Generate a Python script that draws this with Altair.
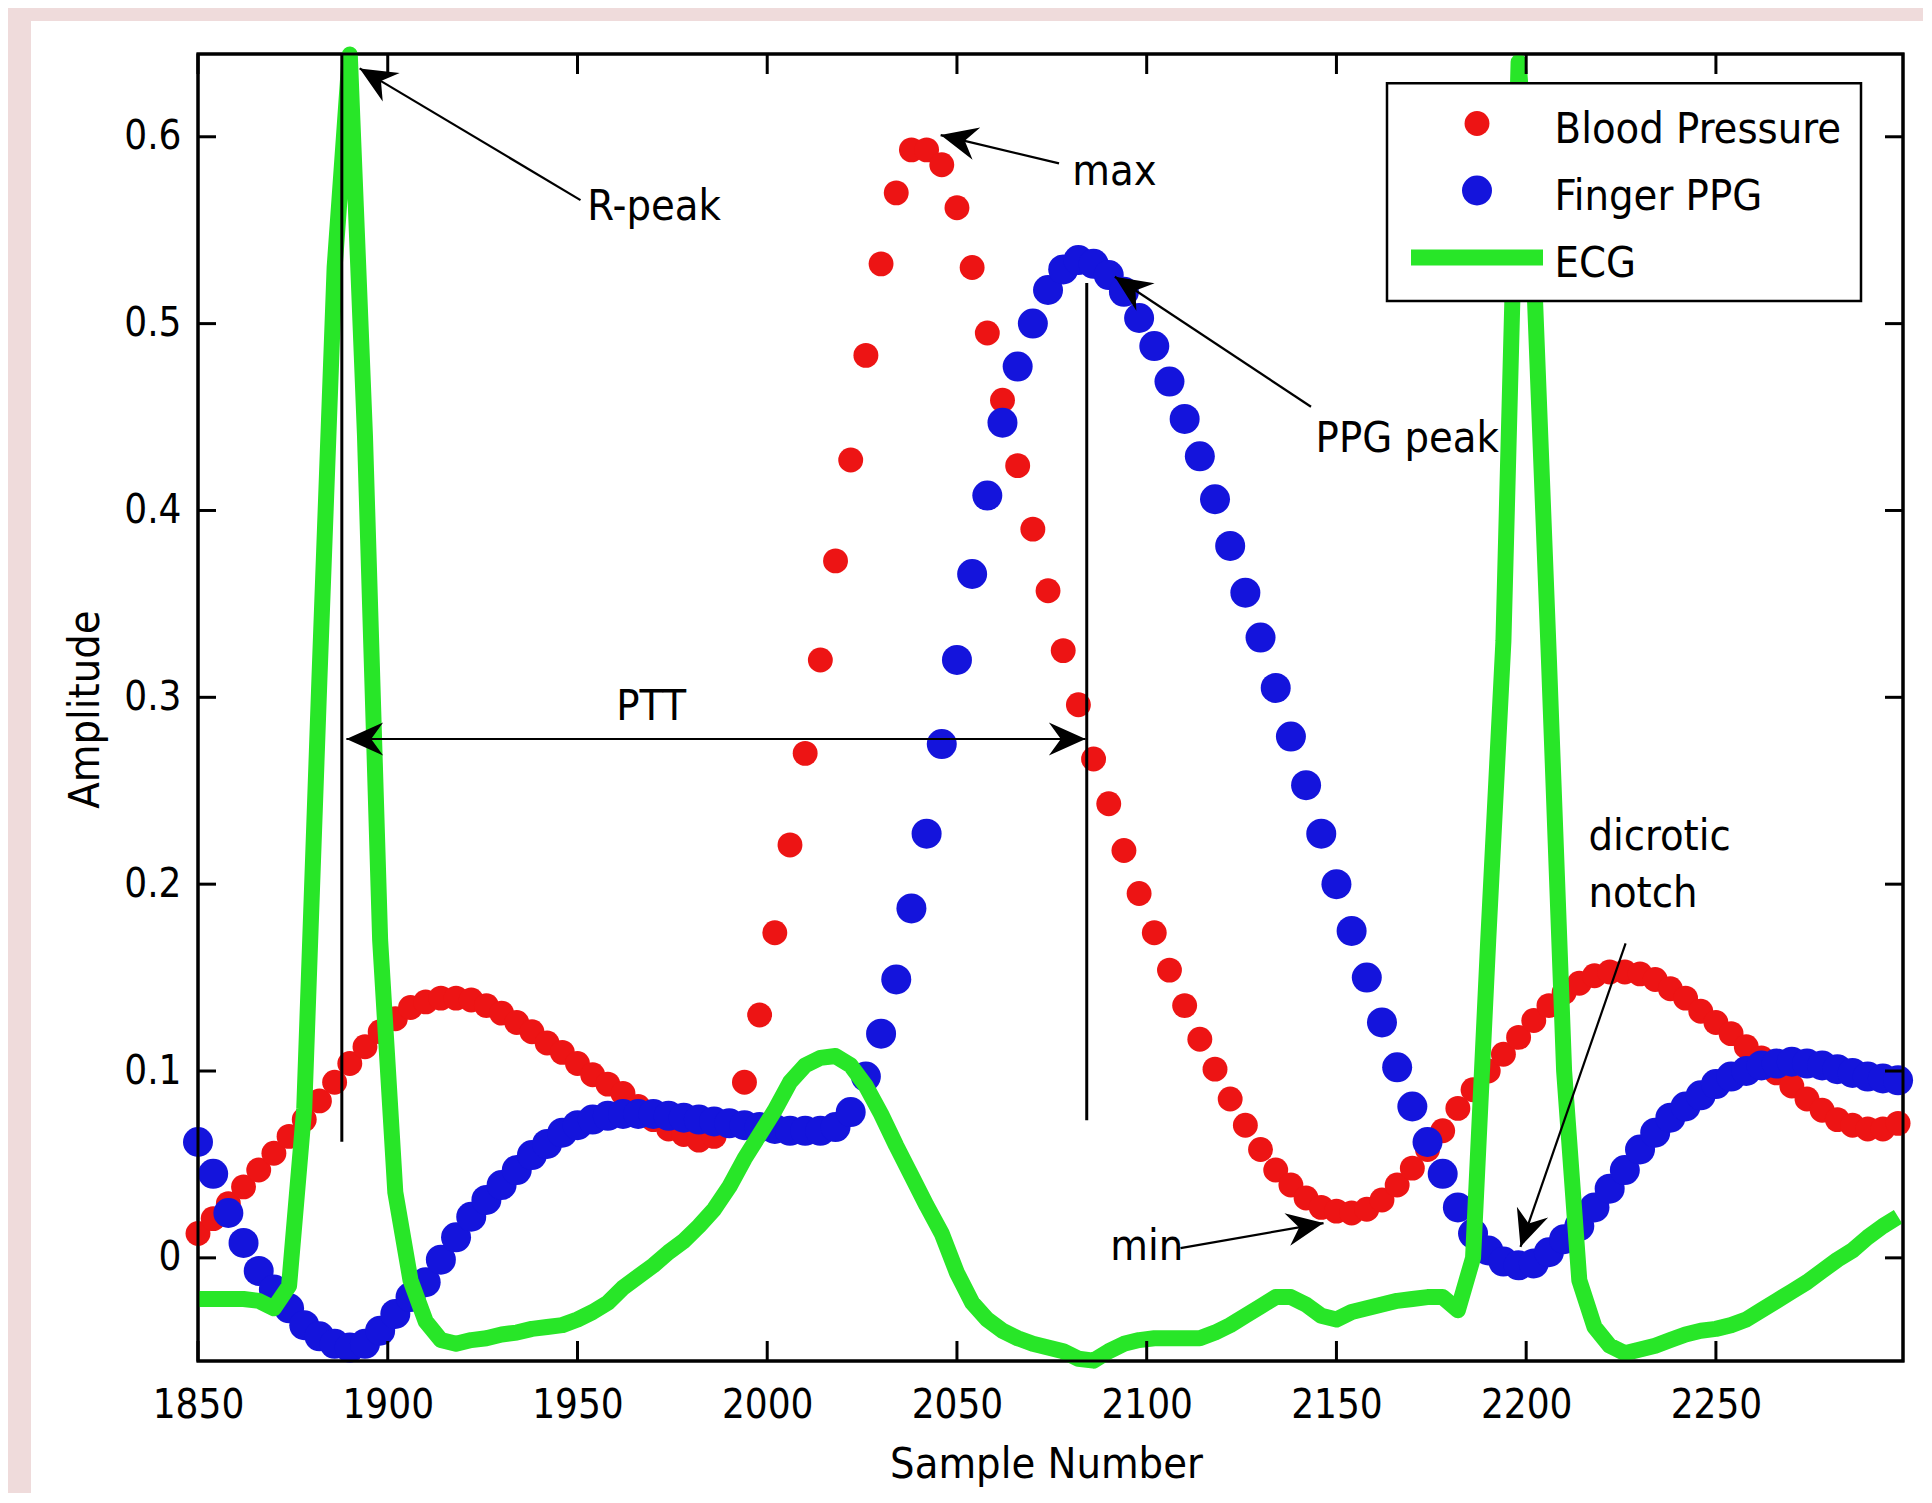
import math
import altair as alt
import pandas as pd

# ---------------- data ----------------
samples = list(range(1850, 2299, 4))

blood_pressure = [
    0.013, 0.021, 0.029, 0.038, 0.047, 0.056, 0.065, 0.074, 0.084, 0.094,
    0.104, 0.113, 0.121, 0.128, 0.134, 0.137, 0.139, 0.139, 0.138, 0.135,
    0.131, 0.126, 0.121, 0.115, 0.110, 0.104, 0.098, 0.093, 0.088, 0.081,
    0.074, 0.069, 0.066, 0.063, 0.065, 0.072, 0.094, 0.130, 0.174, 0.221,
    0.270, 0.320, 0.373, 0.427, 0.483, 0.532, 0.570, 0.593, 0.593, 0.585,
    0.562, 0.530, 0.495, 0.459, 0.424, 0.390, 0.357, 0.325, 0.296, 0.267,
    0.243, 0.218, 0.195, 0.174, 0.154, 0.135, 0.117, 0.101, 0.085, 0.071,
    0.058, 0.047, 0.039, 0.032, 0.027, 0.025, 0.024, 0.026, 0.031, 0.039,
    0.048, 0.058, 0.068, 0.080, 0.090, 0.100, 0.109, 0.118, 0.127, 0.135,
    0.142, 0.147, 0.151, 0.153, 0.153, 0.152, 0.149, 0.144, 0.139, 0.132,
    0.126, 0.120, 0.113, 0.107, 0.099, 0.092, 0.085, 0.079, 0.074, 0.071,
    0.069, 0.069, 0.072,
]

finger_ppg = [
    0.062, 0.045, 0.024, 0.008, -0.007, -0.017, -0.027, -0.036, -0.042, -0.046,
    -0.048, -0.046, -0.039, -0.030, -0.021, -0.013, -0.001, 0.011, 0.022, 0.031,
    0.039, 0.047, 0.055, 0.061, 0.067, 0.071, 0.074, 0.076, 0.077, 0.077,
    0.077, 0.076, 0.075, 0.074, 0.073, 0.072, 0.071, 0.070, 0.069, 0.068,
    0.068, 0.068, 0.070, 0.078, 0.097, 0.120, 0.149, 0.187, 0.227, 0.275,
    0.320, 0.366, 0.408, 0.447, 0.477, 0.500, 0.518, 0.529, 0.534, 0.532,
    0.526, 0.517, 0.503, 0.488, 0.469, 0.449, 0.429, 0.406, 0.381, 0.356,
    0.332, 0.305, 0.279, 0.253, 0.227, 0.200, 0.175, 0.150, 0.126, 0.102,
    0.081, 0.062, 0.045, 0.027, 0.013, 0.004, -0.002, -0.004, -0.003, 0.003,
    0.010, 0.017, 0.027, 0.037, 0.047, 0.058, 0.067, 0.075, 0.081, 0.087,
    0.093, 0.097, 0.100, 0.103, 0.104, 0.105, 0.104, 0.103, 0.101, 0.099,
    0.097, 0.096, 0.095,
]

ecg = [
    -0.022, -0.022, -0.022, -0.022, -0.023, -0.027, -0.015, 0.080, 0.310, 0.530,
    0.644, 0.440, 0.170, 0.035, -0.012, -0.034, -0.044, -0.046, -0.044, -0.043,
    -0.041, -0.040, -0.038, -0.037, -0.036, -0.033, -0.029, -0.024, -0.016, -0.010,
    -0.004, 0.003, 0.009, 0.017, 0.026, 0.038, 0.053, 0.066, 0.079, 0.094,
    0.103, 0.107, 0.108, 0.103, 0.092, 0.077, 0.060, 0.044, 0.028, 0.013,
    -0.008, -0.024, -0.033, -0.039, -0.043, -0.046, -0.048, -0.050, -0.054, -0.055,
    -0.050, -0.046, -0.044, -0.043, -0.043, -0.043, -0.043, -0.040, -0.036, -0.031,
    -0.026, -0.021, -0.021, -0.025, -0.031, -0.033, -0.029, -0.027, -0.025, -0.023,
    -0.022, -0.021, -0.021, -0.028, 0.000, 0.170, 0.330, 0.640, 0.530, 0.320,
    0.100, -0.012, -0.037, -0.047, -0.051, -0.049, -0.047, -0.044, -0.041, -0.039,
    -0.038, -0.036, -0.033, -0.028, -0.023, -0.018, -0.013, -0.007, -0.001, 0.004,
    0.011, 0.017, 0.022,
]

x_tick_values = [1850, 1900, 1950, 2000, 2050, 2100, 2150, 2200, 2250]
y_tick_values = [0.0, 0.1, 0.2, 0.3, 0.4, 0.5, 0.6]

legend_labels = ["Blood Pressure", "Finger PPG", "ECG"]

# annotation geometry in data units
vline_x = [1887.9, 2084.2]
vline_y0 = [0.0621, 0.0737]
vline_y1 = [0.6443, 0.5217]

arrow_tail_x = [1950.8, 2076.9, 2143.3, 2108.9, 2226.2]
arrow_tail_y = [0.5661, 0.5858, 0.4555, 0.0052, 0.1683]
arrow_tip_x = [1892.6, 2045.7, 2091.6, 2146.6, 2198.5]
arrow_tip_y = [0.6366, 0.6009, 0.5251, 0.0186, 0.0059]

ptt_x = [1889.1, 2083.9]
ptt_y = [0.2777, 0.2777]

text_labels = ["R-peak", "max", "PPG peak", "PTT", "min", "dicrotic", "notch"]
text_x = [1952.6, 2080.4, 2144.5, 1960.2, 2090.4, 2216.4, 2216.4]
text_y = [0.5554, 0.5741, 0.4314, 0.2879, -0.0012, 0.2183, 0.1876]

# ---------------- layout / style ----------------
W, H = 1705, 1307
X_DOMAIN = [1850, 2299.3]
Y_DOMAIN = [-0.0552, 0.6443]
FONT = "DejaVu Sans Condensed, Liberation Sans Narrow, Liberation Sans, sans-serif"
FS = 43
FS_TICK = 40
RED, BLUE, GREEN, PINK = "#ed1414", "#1414dc", "#28e628", "#efdbdb"

xs = alt.Scale(domain=X_DOMAIN, nice=False, zero=False)
ys = alt.Scale(domain=Y_DOMAIN, nice=False, zero=False)

x_axis = alt.Axis(
    values=x_tick_values, ticks=False, tickSize=0, domain=False, grid=False, zindex=1,
    labelFont=FONT, labelFontSize=FS_TICK, labelColor="black", labelBaseline="alphabetic",
    labelPadding=56, labelFlush=False, labelOverlap=False, format="d",
    title="Sample Number", titleFont=FONT, titleFontSize=FS, titleFontWeight="normal",
    titleColor="black", titleX=848, titleY=116, titleAlign="center",
    titleBaseline="alphabetic", titleAngle=0,
)
y_axis = alt.Axis(
    values=y_tick_values, ticks=False, tickSize=0, domain=False, grid=False, zindex=1,
    labelFont=FONT, labelFontSize=FS_TICK, labelColor="black", labelBaseline="middle",
    labelAlign="right", labelPadding=17, labelOverlap=False, labelFlush=False,
    format=".1~f",
    title="Amplitude", titleFont=FONT, titleFontSize=FS, titleFontWeight="normal",
    titleColor="black", titleX=-100, titleY=655, titleAngle=270, titleAlign="center",
    titleBaseline="alphabetic",
)


def X(f):
    return alt.X(f"{f}:Q", scale=xs, axis=x_axis)


def Y(f):
    return alt.Y(f"{f}:Q", scale=ys, axis=y_axis)


df = pd.DataFrame({"sample": samples, "bp": blood_pressure, "ppg": finger_ppg, "ecg": ecg})
one = pd.DataFrame({"k": [0]})

# pink page bands (top and left)
band_top = alt.Chart(one).mark_rect(color=PINK).encode(
    x=alt.value(-190), x2=alt.value(W + 20), y=alt.value(-46), y2=alt.value(-33))
band_left = alt.Chart(one).mark_rect(color=PINK).encode(
    x=alt.value(-190), x2=alt.value(-167), y=alt.value(-46), y2=alt.value(H + 132))

bp_layer = alt.Chart(df).mark_circle(size=620, color=RED, opacity=1).encode(x=X("sample"), y=Y("bp"))
ppg_layer = alt.Chart(df).mark_circle(size=900, color=BLUE, opacity=1).encode(x=X("sample"), y=Y("ppg"))
ecg_layer = alt.Chart(df).mark_line(color=GREEN, strokeWidth=16, strokeJoin="round").encode(
    x=X("sample"), y=Y("ecg"))

# annotations
vdf = pd.DataFrame({"x": vline_x, "y0": vline_y0, "y1": vline_y1})
vlines = alt.Chart(vdf).mark_rule(color="black", strokeWidth=3).encode(
    x=X("x"), y=Y("y0"), y2=alt.Y2("y1"))

adf = pd.DataFrame({"x1": arrow_tail_x + [ptt_x[0]], "y1": arrow_tail_y + [ptt_y[0]],
                    "x2": arrow_tip_x + [ptt_x[1]], "y2": arrow_tip_y + [ptt_y[1]]})
ashaft = alt.Chart(adf).mark_rule(color="black", strokeWidth=2.2).encode(
    x=X("x1"), y=Y("y1"), x2=alt.X2("x2"), y2=alt.Y2("y2"))

ppx = W / (X_DOMAIN[1] - X_DOMAIN[0])
ppy = H / (Y_DOMAIN[1] - Y_DOMAIN[0])


def screen_angle(x1, y1, x2, y2):
    return math.degrees(math.atan2(-(y2 - y1) * ppy, (x2 - x1) * ppx)) % 360


head_x, head_y, head_a = [], [], []
for tx, ty, hx, hy in zip(arrow_tail_x, arrow_tail_y, arrow_tip_x, arrow_tip_y):
    head_x.append(hx)
    head_y.append(hy)
    head_a.append(screen_angle(tx, ty, hx, hy))
head_x += [ptt_x[0], ptt_x[1]]
head_y += [ptt_y[0], ptt_y[1]]
head_a += [screen_angle(ptt_x[1], ptt_y[1], ptt_x[0], ptt_y[0]),
           screen_angle(ptt_x[0], ptt_y[0], ptt_x[1], ptt_y[1])]
hdf = pd.DataFrame({"x": head_x, "y": head_y, "a": head_a})
ARROW = "M0,0 L-2,-0.9 L-1.35,0 L-2,0.9 Z"
heads = alt.Chart(hdf).mark_point(shape=ARROW, filled=True, size=1350, color="black",
                                   opacity=1, strokeWidth=0).encode(
    x=X("x"), y=Y("y"), angle=alt.Angle("a:Q", scale=None))

tdf = pd.DataFrame({"x": text_x, "y": text_y, "label": text_labels})
texts = alt.Chart(tdf).mark_text(align="left", baseline="alphabetic", font=FONT, fontSize=FS,
                                 color="black").encode(x=X("x"), y=Y("y"), text="label:N")

# inward ticks on all four sides
xt = pd.DataFrame({"t": x_tick_values})
yt = pd.DataFrame({"t": y_tick_values})
tick_style = dict(color="black", strokeWidth=3)
tb = alt.Chart(xt).mark_rule(**tick_style).encode(x=X("t"), y=alt.value(H), y2=alt.value(H - 20))
tt = alt.Chart(xt).mark_rule(**tick_style).encode(x=X("t"), y=alt.value(0), y2=alt.value(20))
tl = alt.Chart(yt).mark_rule(**tick_style).encode(y=Y("t"), x=alt.value(0), x2=alt.value(18))
tr = alt.Chart(yt).mark_rule(**tick_style).encode(y=Y("t"), x=alt.value(W), x2=alt.value(W - 18))

# legend (MATLAB style box, top right)
legend_layers = [
    alt.Chart(one).mark_rect(fill="white", stroke="black", strokeWidth=2.5).encode(
        x=alt.value(1189), x2=alt.value(1663), y=alt.value(29.3), y2=alt.value(247))
]
legend_colors = [RED, BLUE, GREEN]
legend_sizes = [620, 900]
for i, lab in enumerate(legend_labels):
    mid = 69.5 + 67 * i
    if i < 2:
        legend_layers.append(alt.Chart(one).mark_circle(size=legend_sizes[i], color=legend_colors[i],
                                                        opacity=1).encode(
            x=alt.value(1279), y=alt.value(mid)))
    else:
        legend_layers.append(alt.Chart(one).mark_rule(color=legend_colors[i], strokeWidth=16).encode(
            x=alt.value(1213), x2=alt.value(1345), y=alt.value(mid)))
    legend_layers.append(alt.Chart(one).mark_text(align="left", baseline="alphabetic", font=FONT,
                                                  fontSize=FS, color="black").encode(
        x=alt.value(1356.6), y=alt.value(mid + 19.5), text=alt.value(lab)))

# plot frame drawn on top
frame = alt.Chart(one).mark_rect(fillOpacity=0, stroke="black", strokeWidth=3).encode(
    x=alt.value(0), x2=alt.value(W), y=alt.value(0), y2=alt.value(H))

chart = alt.layer(
    band_top, band_left, bp_layer, ppg_layer, ecg_layer, vlines, ashaft, heads, texts,
    tb, tt, tl, tr, frame, *legend_layers
).properties(width=W, height=H, padding=0, background="white").configure_view(
    stroke="black", strokeWidth=3)

chart.save("out.html", embed_options={"renderer": "svg", "actions": False})
